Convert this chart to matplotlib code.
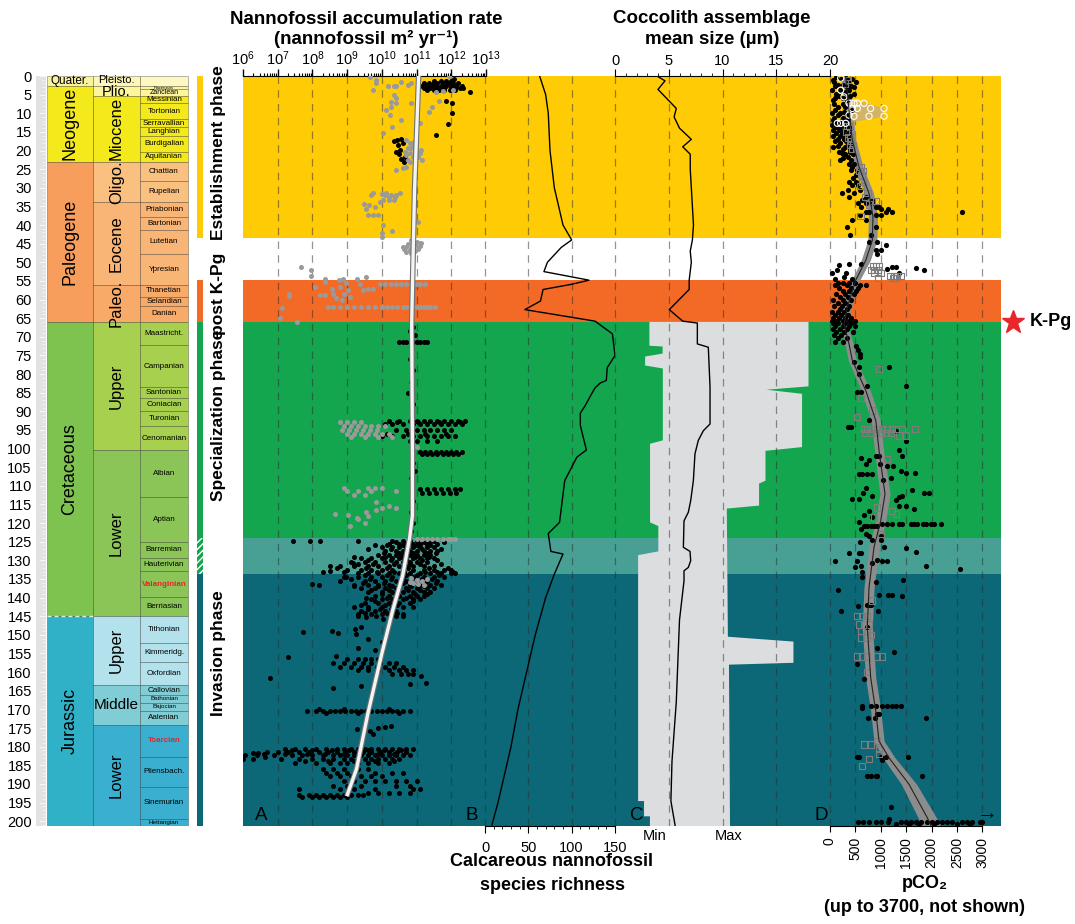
import numpy as np
import matplotlib
matplotlib.use("Agg")
import matplotlib.pyplot as plt
from matplotlib.patches import Rectangle, Polygon
from matplotlib.ticker import LogLocator, NullFormatter, MultipleLocator
from matplotlib.transforms import blended_transform_factory

plt.rcParams['font.family'] = ['Liberation Sans', 'DejaVu Sans']
plt.rcParams['mathtext.fontset'] = 'custom'
plt.rcParams['mathtext.rm'] = 'Liberation Sans'
plt.rcParams['mathtext.it'] = 'Liberation Sans:italic'
plt.rcParams['mathtext.bf'] = 'Liberation Sans:bold'
plt.rcParams['hatch.linewidth'] = 1.0

# ----------------------------
# Geologic time scale (Ma)
# ----------------------------
period_names = ['Quater.', 'Neogene', 'Paleogene', 'Cretaceous', 'Jurassic']
period_bounds = [0, 2.58, 23.03, 66.0, 145.0, 201.3]

epoch_names = ['Pleisto.', 'Plio.', 'Miocene', 'Oligo.', 'Eocene', 'Paleo.',
               'Upper', 'Lower', 'Upper', 'Middle', 'Lower']
epoch_bounds = [0, 2.58, 5.333, 23.03, 33.9, 56.0, 66.0, 100.5, 145.0, 163.5, 174.1, 201.3]

stage_names = ['', 'Piacenzian', 'Zanclean', 'Messinian', 'Tortonian', 'Serravallian',
               'Langhian', 'Burdigalian', 'Aquitanian', 'Chattian', 'Rupelian',
               'Priabonian', 'Bartonian', 'Lutetian', 'Ypresian', 'Thanetian',
               'Selandian', 'Danian', 'Maastricht.', 'Campanian', 'Santonian',
               'Coniacian', 'Turonian', 'Cenomanian', 'Albian', 'Aptian', 'Barremian',
               'Hauterivian', 'Valanginian', 'Berriasian', 'Tithonian', 'Kimmeridg.',
               'Oxfordian', 'Callovian', 'Bathonian', 'Bajocian', 'Aalenian', 'Toarcian',
               'Pliensbach.', 'Sinemurian', 'Hettangian']
stage_bounds = [0, 2.58, 3.6, 5.333, 7.246, 11.63, 13.82, 15.97, 20.44, 23.03, 28.1,
                33.9, 37.8, 41.2, 47.8, 56.0, 59.2, 61.6, 66.0, 72.1, 83.6, 86.3, 89.8,
                93.9, 100.5, 113.0, 125.0, 129.4, 132.9, 139.8, 145.0, 152.1, 157.3,
                163.5, 166.1, 168.3, 170.3, 174.1, 182.7, 190.8, 199.3, 201.3]
highlight_stages = ['Valanginian', 'Toarcian']

# phases (background bands)
phase_tops = [0, 43.4, 54.8, 66.0, 124.0, 133.6]
phase_bots = [43.4, 54.8, 66.0, 124.0, 133.6, 201.3]

phase_labels = ['Establishment phase', 'post K-Pg', 'Specialization phase', 'Invasion phase']
phase_label_age = [20.5, 58.5, 91.0, 155.0]

# ----------------------------
# A: nannofossil accumulation rate (log10 nannofossil m-2 yr-1)
# ----------------------------
a_trend_age = [0, 31, 66, 100, 118, 124, 134, 143.5, 155, 171, 186, 193.3]
a_trend_log = [11.06, 10.94, 10.86, 10.88, 10.88, 10.8, 10.6, 10.31, 10.0, 9.6, 9.27, 8.99]

a_black_rows = [
    (0.9, [12.09]), (1.4, [11.5, 11.7, 11.85, 12.0]),
    (2.0, [11.2, 11.35, 11.5, 11.6, 11.75, 11.9, 12.05, 12.2]),
    (2.6, [11.15, 11.3, 11.45, 11.55, 11.7, 11.85, 12.0, 12.15, 12.3]),
    (3.2, [11.2, 11.4, 11.6, 11.8, 12.0, 12.1, 12.25, 12.35]),
    (3.8, [11.3, 11.5, 11.65, 11.8, 11.95, 12.1]),
    (4.3, [12.54]), (6.6, [11.85]), (7.3, [12.02]), (9.9, [12.02]), (13.0, [11.9]), (15.9, [11.57]),
    (16.8, [10.56]), (17.2, [10.45]), (17.5, [10.35]), (17.9, [10.61]), (18.5, [10.46]),
    (19.9, [10.51]), (20.5, [10.4]), (21.0, [10.49]), (21.7, [10.66]), (22.3, [10.56]), (23.2, [10.63]),
    (66.5, [10.85]), (67.5, [10.9]), (68.5, [10.8]), (69.5, [10.95]), (70.5, [10.85]),
    (71.5, [10.5, 10.6, 10.7, 10.8, 10.9, 11.0, 11.1, 11.2, 11.3]),
    (76, [10.8]), (79, [10.9]), (82, [10.85]), (85, [10.75]), (88, [10.9]),
    (92.5, [10.2, 10.5, 10.8, 11.0, 11.2, 11.4, 11.6, 11.8, 12.0, 12.2, 12.4]),
    (93.0, [10.45, 11.05, 11.65, 12.25]),
    (93.5, [10.1, 10.3, 10.6, 10.9, 11.1, 11.3, 11.5, 11.7, 11.9, 12.1, 12.3]),
    (95.0, [10.4, 10.7, 11.0, 11.2, 11.4, 11.6, 11.8, 12.0]),
    (96.0, [10.15, 10.75, 11.25, 11.85]),
    (96.5, [10.0, 10.3, 10.6, 10.9, 11.1, 11.3, 11.5, 11.7, 11.9, 12.1]),
    (98.0, [10.8, 11.0, 11.3, 11.6]),
    (100.8, [11.1, 11.25, 11.4, 11.55, 11.7, 11.85, 12.0, 12.15, 12.3]),
    (101.5, [11.15, 11.3, 11.45, 11.6, 11.75, 11.9, 12.05, 12.2]),
    (104, [10.9]), (106, [10.95]), (108, [10.85]),
    (110.8, [11.1, 11.3, 11.5, 11.7, 11.9, 12.1, 12.25]),
    (111.8, [11.15, 11.35, 11.55, 11.75, 11.95, 12.15]),
    (114, [10.9]), (117, [10.85]), (120, [10.9]), (122, [10.85]),
    (124.7, [7.45, 7.93, 8.21, 9.30, 10.3, 10.6, 10.8, 11.0, 11.2, 11.5]),
    (125.0, [10.4, 10.8, 11.2, 11.4, 11.8]),
    (125.5, [10.2, 10.5, 10.7, 10.9, 11.1, 11.3, 11.6]),
    (126.0, [9.8, 10.15, 10.6, 11.0, 11.4]),
    (126.5, [10.0, 10.3, 10.5, 10.7, 10.9, 11.1, 11.3, 11.5]),
    (127.0, [9.6, 10.25, 10.75, 11.15, 11.7]),
    (127.5, [10.1, 10.4, 10.6, 10.8, 11.0, 11.2, 11.4, 11.6]),
    (128.0, [10.05, 10.5, 10.9, 11.3, 11.55]),
    (128.5, [9.9, 10.2, 10.4, 10.6, 10.8, 11.0, 11.2, 11.4]),
    (129.0, [9.2, 10.1, 10.55, 10.95, 11.35]),
    (129.5, [9.4, 9.7, 10.0, 10.3, 10.5, 10.7, 10.9, 11.1, 11.3, 11.5]),
    (130.0, [9.6, 10.25, 10.7, 11.15, 11.6]),
    (130.5, [9.1, 9.5, 9.8, 10.1, 10.4, 10.6, 10.8, 11.0, 11.3]),
    (130.6, [9.17]),
    (131.0, [9.3, 9.75, 10.35, 10.8, 11.1, 11.7]),
    (131.5, [8.5, 8.8, 9.2, 9.6, 9.9, 10.2, 10.5, 10.7, 10.9, 11.2, 11.5]),
    (132.0, [8.7, 9.55, 10.15, 10.75, 11.35, 11.9]),
    (132.5, [9.0, 9.4, 9.7, 10.0, 10.3, 10.6, 10.9, 11.2, 11.5, 11.8, 12.0]),
    (132.8, [8.5]), (133.2, [8.31]),
    (133.0, [8.9, 9.85, 10.35, 10.65, 11.25, 11.6, 12.05]),
    (133.5, [9.3, 9.6, 9.9, 10.2, 10.5, 10.8, 11.1, 11.4, 11.7, 12.0, 12.1]),
    (134.0, [9.5, 10.15, 10.7, 11.0, 11.65]),
    (134.5, [8.9, 9.3, 9.7, 10.0, 10.3, 10.6, 10.9, 11.2, 11.5, 11.8]),
    (134.6, [8.98]), (135.5, [8.79]),
    (135.0, [9.1, 9.65, 10.25, 10.55, 11.15, 11.45]),
    (135.5, [9.5, 9.8, 10.1, 10.4, 10.7, 11.0, 11.3, 11.6]),
    (136.0, [9.45, 10.05, 10.6, 11.25, 11.55]),
    (136.4, [8.0]),
    (136.5, [8.2, 9.2, 9.6, 9.9, 10.2, 10.5, 10.8, 11.1, 11.4, 11.7]),
    (137.0, [9.2, 9.9, 10.3, 10.85, 11.2]),
    (137.5, [9.4, 9.8, 10.1, 10.4, 10.7, 11.0, 11.3, 11.5]),
    (138.0, [9.7, 10.2, 10.75, 11.1]),
    (138.5, [9.6, 10.0, 10.3, 10.6, 10.9, 11.2, 11.4]),
    (139.0, [10.0, 10.4, 10.95, 11.3]),
    (139.5, [9.8, 10.2, 10.5, 10.8, 11.0, 11.2]),
    (140.0, [9.55, 10.15, 10.7]),
    (140.5, [9.7, 10.0, 10.3, 10.6, 10.9, 11.1]),
    (141.0, [9.8, 10.35, 10.9]),
    (141.5, [9.5, 9.9, 10.2, 10.5, 10.8]),
    (142.0, [9.4, 10.1, 10.45]),
    (142.5, [9.2, 9.6, 10.0, 10.3, 10.6, 10.9]),
    (143.0, [9.6, 9.95, 10.25]),
    (143.5, [9.4, 9.8, 10.1, 10.4]),
    (144.0, [9.5, 10.15, 10.45]),
    (144.5, [9.3, 9.7, 10.0, 10.3, 10.6]),
    (144.9, [9.31, 9.84, 10.42, 10.61]), (145.3, [9.55]), (145.7, [10.03]), (144.4, [10.22]),
    (148.0, [9.41]), (148.5, [9.22]), (149.8, [9.25]), (148.9, [8.55]), (149.6, [8.74]), (149.2, [7.73]),
    (151, [9.6]), (152, [10.0]), (153.5, [9.3]), (154, [9.8]),
    (155.9, [7.30]), (155.6, [8.69]),
    (156.5, [9.0, 9.3, 9.5, 9.7, 9.9]),
    (157.5, [8.6, 8.9, 9.2, 9.45, 9.7, 9.95, 10.2, 10.4]),
    (158.5, [8.8, 9.1, 9.4, 9.6, 9.85, 10.1, 10.35, 10.6]),
    (159.5, [9.3, 9.6, 9.9, 10.2, 10.5, 10.7, 10.9]),
    (160.5, [10.3, 10.55, 10.75, 10.9]),
    (161.0, [11.13]), (161.6, [6.78]), (162.8, [11.28]), (163.3, [10.8]), (164.2, [8.6]), (163.7, [9.41]),
    (170.0, [8.2, 8.9, 9.6, 10.2]),
    (170.4, [7.83, 8.1, 8.3, 8.5, 8.65, 8.8, 8.95, 9.1, 9.25, 9.4, 9.55, 9.7, 9.85,
             10.0, 10.15, 10.3, 10.45, 10.6, 10.8]),
    (171.0, [8.4, 9.3, 10.5]),
    (174.5, [10.27]), (174.7, [10.08]), (174.9, [9.89]), (175.2, [9.27]), (175.8, [9.65]),
    (176.7, [9.46, 9.75]),
    (180.5, [7.2, 7.5, 7.8, 8.1, 8.4, 8.7, 8.9, 9.1, 9.3, 9.5, 9.7, 9.9, 10.1, 10.3, 10.5, 10.7, 10.9]),
    (181.0, [7.4, 8.0, 8.55, 9.05, 9.6, 10.05, 10.55]),
    (181.5, [6.7, 7.0, 7.3, 7.6, 7.9, 8.2, 8.45, 8.7, 8.95, 9.2, 9.45, 9.7, 9.95, 10.2, 10.45, 10.7]),
    (181.8, [6.3, 6.44]),
    (182.0, [6.6, 7.2, 7.85, 8.35, 8.9, 9.35, 9.9, 10.35]),
    (182.3, [6.05, 6.4, 6.9, 7.4, 7.7, 8.0, 8.3, 8.6, 8.8, 9.0, 9.2, 9.4, 9.6, 9.8,
             10.0, 10.2, 10.4, 10.6, 10.8]),
    (182.8, [6.63]),
    (183.3, [6.3, 7.1, 7.6, 8.0, 8.3, 8.6, 8.9, 9.1, 9.3, 9.5, 9.7, 9.9, 10.1, 10.3, 10.5]),
    (183.4, [6.0]),
    (183.8, [7.8, 8.45, 9.2, 9.8, 10.35]),
    (184.5, [7.5, 8.1, 8.5, 8.8, 9.0, 9.3, 9.6, 9.9, 10.2]),
    (186, [8.3, 8.6, 8.9, 9.3, 9.6]),
    (187, [8.4, 8.7, 9.0, 9.8, 10.3, 10.6]),
    (188, [8.5, 8.8, 9.1, 9.4, 9.7, 10.0]),
    (189.2, [8.9, 9.2, 9.5, 9.8, 10.1, 10.4, 10.7, 11.0]),
    (190.5, [8.6, 9.0, 9.4, 10.4, 10.8]),
    (191.5, [7.6, 8.8, 9.2, 9.8, 10.9, 11.1]),
    (192.5, [9.6, 9.9, 10.2, 10.5, 10.8]),
    (193.0, [7.6, 7.9, 8.1, 8.3, 8.5, 8.7, 8.9, 9.1, 9.3, 9.45]),
    (193.5, [7.7, 8.0, 8.2, 8.4, 8.6, 8.8, 9.0]),
]

a_grey_rows = [
    (0.0, [11.93]), (0.2, [9.65]), (1.0, [9.82]), (1.5, [10.56]), (2.0, [9.82, 10.85]),
    (2.3, [10.75]), (2.7, [10.18, 10.34, 10.42]), (3.8, [9.75, 12.04]), (4.0, [11.76]), (4.2, [11.57]),
    (5.1, [10.34]), (6.0, [10.42]), (6.6, [11.66]), (6.9, [10.27]), (7.3, [10.42, 10.85]),
    (8.2, [10.27, 11.45]), (9.1, [10.13]), (9.6, [11.37]), (10.5, [10.24]), (11.8, [10.56]),
    (12.7, [11.09]), (13.6, [10.30]), (15.2, [10.03]),
    (17.2, [10.70]), (17.7, [10.94]), (18.1, [10.80]), (18.5, [10.89]), (19.2, [10.85]),
    (19.4, [10.75]), (19.7, [10.99]), (19.9, [11.13]), (20.3, [10.66]), (20.8, [10.82, 11.09]),
    (21.2, [10.70]), (21.7, [10.89, 11.04]), (22.6, [11.16, 10.75]), (23.0, [10.82]),
    (24.4, [10.70]), (24.8, [10.61]), (25.1, [10.42]),
    (31.4, [10.13]), (31.5, [9.75, 10.51]), (31.7, [9.99]), (32.0, [9.70, 10.08, 10.27, 10.42]),
    (32.4, [10.37]), (32.6, [10.22]), (33.2, [10.20]), (33.3, [10.03, 10.34]), (33.8, [9.94]),
    (34.4, [9.48]), (34.7, [9.63]), (35.1, [9.79]), (35.6, [9.55]), (37.2, [9.89]), (37.4, [9.60, 9.75]),
    (39.3, [11.04]), (39.6, [10.89]), (40.0, [10.03]), (41.6, [10.29]), (42.2, [9.99]), (43.2, [10.01]),
    (44.0, [10.85]), (44.5, [11.0]), (44.8, [11.12]), (45.0, [10.75]), (45.3, [10.95]), (45.6, [11.1]),
    (45.8, [10.6]), (46.0, [10.7]), (46.2, [10.85]), (46.4, [11.05]), (46.5, [10.65]), (46.8, [10.8]),
    (47.0, [10.95]), (47.3, [10.7]), (47.6, [10.85]),
    (51.2, [7.67]), (52.2, [7.97]), (53.8, [7.97]), (53.9, [9.53]), (54.4, [8.36, 8.88, 9.27]),
    (54.8, [8.77]), (55.3, [8.36]), (55.6, [8.96]), (55.7, [9.36]),
    (55.9, [9.94, 10.1, 10.25, 10.4, 10.55, 10.7, 10.85, 11.0, 11.1, 11.23]),
    (56.5, [8.07]), (56.6, [8.79]), (57.1, [8.55, 9.60]), (57.3, [9.75]), (57.5, [9.03, 9.46]),
    (58.4, [8.60, 8.90, 7.33]), (58.9, [8.21, 8.36]), (59.1, [7.33]), (59.3, [9.07]), (59.5, [8.69]),
    (60.2, [8.84]),
    (62.0, [8.45, 8.6, 8.8, 9.0, 9.2, 9.4, 9.6, 9.8, 10.0, 10.15, 10.3, 10.45, 10.6, 10.7,
            10.8, 10.9, 11.0, 11.1, 11.2, 11.3, 11.4, 11.52]),
    (62.2, [7.11]), (64.9, [7.06]), (66.0, [7.56]),
    (93.0, [8.8, 9.0, 9.2, 9.4]),
    (94.0, [8.9, 9.1, 9.3, 9.5, 9.7, 9.9, 10.1]),
    (95.0, [8.85, 9.05, 9.25, 9.45, 9.65, 9.85]),
    (96.0, [9.0, 9.2, 9.4, 9.6, 9.8, 10.0, 10.2]),
    (97.0, [9.1, 9.5, 9.9, 10.3]), (99.0, [10.9]), (99.5, [11.0]),
    (110.5, [8.9, 9.6, 9.8, 10.0]), (111.5, [9.0, 9.3, 9.7, 10.4]), (112.5, [9.2, 9.5]),
    (114.4, [9.84]), (115.3, [10.22]), (115.9, [9.99, 10.42]), (116.5, [9.84]), (117.1, [9.55]),
    (117.6, [8.64]), (117.7, [9.03]), (118.0, [9.60]), (118.5, [9.27]), (118.9, [9.31]),
    (120.1, [9.51]), (120.7, [9.07]),
    (124.3, [11.0, 11.15, 11.3, 11.45, 11.6, 11.75, 11.9, 12.0, 12.1]),
    (134.8, [10.85]), (135.0, [11.3]), (135.2, [11.0]), (135.6, [11.15]), (135.8, [10.8]),
    (136.0, [10.9]), (136.3, [11.05]), (136.6, [11.2]),
]

# ----------------------------
# B: calcareous nannofossil species richness
# ----------------------------
b_age = [0, 5, 10, 20, 30, 40, 44, 46, 50, 52.5, 54.8, 55.9, 57.3, 60.4, 62.7, 65.8, 69.2,
         75.0, 78.3, 81.7, 82.4, 83.7, 84.9, 88.7, 90.5, 93.8, 100.4, 102.3, 108.6, 119.8,
         122.8, 127.6, 128.3, 131.0, 133.7, 140, 150, 160, 170, 180, 190, 195, 201]
b_rich = [63, 70, 73, 75, 80, 90, 100, 88, 72, 68, 120, 100, 67, 64, 46, 127, 147,
          150, 141, 140, 133, 127, 124, 115, 110, 110, 117, 106, 92, 86,
          73, 76, 90, 85, 80, 70, 58, 48, 38, 30, 20, 15, 8]

# ----------------------------
# C: coccolith assemblage mean size (um) with min / max envelope
# ----------------------------
c_age = [0, 1.3, 3.6, 8.7, 11, 14, 17, 19, 21, 25, 30, 35, 40, 44, 47, 50, 54.8, 57.3,
         62.7, 65.8, 66.3, 71.9, 72.8, 83.5, 93.4, 95.2, 97.8, 101.4, 108.6, 114.0, 117.1,
         119.4, 126.5, 127.6, 130.1, 131.9, 132.8, 135.5, 146, 168, 184, 194.6, 201.3]
c_mean = [3.9, 4.65, 4.0, 5.7, 5.5, 6.0, 7.1, 6.3, 7.0, 7.0, 7.1, 7.2, 7.3, 7.2, 7.0, 7.1, 6.9, 6.9,
          5.05, 6.3, 7.66, 7.66, 8.68, 8.84, 8.84, 8.22, 7.75, 7.44, 7.29, 7.04, 6.82,
          6.42, 6.36, 6.98, 7.04, 6.82, 6.42, 6.42, 6.0, 5.7, 5.3, 5.2, 5.6]

c_min_age = [66.0, 72.4, 72.6, 74.5, 75.3, 77.7, 78.5, 97.8, 98.7, 119.8, 120.8, 127.6, 128.6,
             194.6, 194.6, 198.7, 198.7, 201.3]
c_min_um = [3.2, 3.2, 4.43, 4.43, 2.8, 2.8, 4.45, 4.45, 3.26, 3.26, 4.03, 4.03, 2.15,
            2.15, 2.7, 2.7, 3.25, 3.25]
c_max_age = [66.0, 83.3, 84.2, 85.3, 99.6, 100.6, 108.6, 109.4, 115.3, 116.1, 150.5, 151.8,
             157.5, 158.0, 201.3]
c_max_um = [18.0, 18.0, 14.1, 17.4, 17.4, 14.0, 14.0, 13.4, 13.4, 10.4, 10.5, 16.6,
            16.6, 10.6, 10.7]

# ----------------------------
# D: pCO2 (ppm)
# ----------------------------
d_trend_age = [0.2, 9.1, 17.2, 24.4, 31.5, 37.8, 44.1, 49.5, 54.8, 62, 66.5, 71.9, 76.3, 84.4,
               92.5, 100.5, 112.2, 119.4, 126.5, 137.3, 148, 161.5, 170.4, 178.5, 183, 190.1,
               199.1, 201.3]
d_trend_ppm = [309, 374, 439, 571, 768, 846, 833, 703, 506, 341, 276, 374, 439, 703,
               902, 965, 1083, 998, 866, 768, 734, 801, 900, 965, 1161, 1555, 1916, 1990]
d_trend_err = [70, 70, 70, 80, 90, 90, 90, 90, 80, 80, 70, 80, 80, 90,
               90, 90, 100, 100, 100, 100, 100, 100, 100, 100, 120, 150, 180, 190]

d_black_rows = [
    (0.3, [120, 300]), (0.8, [210, 440]), (1.0, [60, 350]), (1.5, [80, 505, 370]), (2.3, [150, 260]),
    (2.8, [100, 420]), (3.0, [330, 480]), (3.8, [46, 200, 374]), (4.2, [300]), (4.7, [120, 470]),
    (5.5, [177, 400]), (6.0, [250, 90]), (6.5, [60, 340]), (7.4, [80, 250]),
    (8.2, [300, 150]), (9.1, [100, 440]), (9.6, [280]), (10.0, [30, 200]), (10.5, [150, 330]),
    (11.2, [80, 260]), (11.5, [350]),
    (11.8, [230, 50]), (12.5, [100, 180, 300]), (13.2, [46, 250]), (13.8, [112, 200, 330]),
    (14.0, [400]), (14.5, [60, 177, 280]), (15.2, [120, 240, 350]), (15.8, [280]),
    (16.0, [60, 200, 374]), (16.8, [150, 280]),
    (17.5, [100, 310, 380]), (18.1, [200, 440]), (18.8, [150, 340]), (19.0, [60, 300]), (19.5, [250, 400]),
    (20.3, [180, 400]), (20.8, [240]), (21.0, [300, 450]), (21.7, [350]), (22.0, [260]),
    (22.6, [190, 420]), (23.5, [370, 470]),
    (24.4, [430]), (25.3, [410, 530]), (26.6, [505]), (27.5, [460]), (28.4, [374, 520]),
    (29.3, [440, 560]), (30.6, [360, 600]), (31.5, [243, 480]), (32.4, [374, 700]), (33.3, [636, 820]),
    (34.2, [702, 833, 560]), (35.1, [900, 965, 620]), (35.6, [1000, 1150]),
    (36.5, [768, 1096, 1227, 2600, 700]), (37.3, [600, 900, 1000]), (38.7, [440, 700]),
    (40.5, [340, 900]), (42.8, [400, 800]),
    (44.5, [768, 932]), (45.4, [1096]), (46.8, [899, 1000]), (47.7, [932]), (50.5, [374, 604]),
    (50.8, [177]), (51.3, [1227, 1292]), (51.7, [1128]), (52.1, [144, 1850]), (51.5, [1686]),
    (53.0, [309, 1358, 46]), (53.9, [276]), (54.4, [440, 100]),
    (55.5, [150, 250, 380, 500]), (56.2, [100, 330, 600, 700]), (57.0, [180, 420, 560]),
    (57.8, [250, 380, 520]), (58.5, [120, 300, 470]), (59.3, [200, 350]), (60.2, [60, 250, 420]),
    (61.0, [150, 300]), (61.8, [80, 230, 380]), (62.6, [200, 330]), (63.4, [40, 150, 280]),
    (64.2, [100, 220, 350]), (65.0, [60, 180, 300, 420]), (65.7, [30, 120, 250, 380, 500]),
    (66.4, [60, 150, 300, 420]), (67.2, [100, 250, 380, 500]), (68.0, [50, 200, 330]),
    (68.8, [120, 280, 450]), (69.6, [80, 220]), (70.4, [150, 330]), (71.4, [100, 250]),
    (72.5, [520]), (73.5, [560]), (74.5, [590]), (75.5, [600]),
    (76.8, [472]), (78.0, [571, 1161]), (79.9, [571]), (83.1, [1489]), (83.3, [735]),
    (84.9, [538, 604]), (92.3, [768]), (94.3, [361, 407]), (95.3, [1292]), (98.0, [1502]),
    (100.5, [1358]), (101.9, [899, 965]), (102.1, [1410]), (102.5, [604]), (103.0, [768]),
    (104.1, [702, 978]), (104.8, [1128, 1240]), (106.0, [1391]), (106.6, [1673, 1489]),
    (106.8, [571, 636, 735, 820]), (107.9, [1194]), (108.4, [1043]), (110.6, [702]), (111.1, [1620]),
    (112.0, [650, 1850, 1948]), (112.6, [833, 1410]), (113.1, [1358]), (113.4, [440, 571]),
    (113.8, [1292]), (115.3, [1358, 1489]), (116.2, [1653]), (116.7, [768]), (117.7, [669]),
    (118.3, [833]), (119.8, [571]),
    (120.2, [1030, 1128, 1227, 1358, 1424, 1588, 1653, 1719, 1830, 1896, 1981, 2047, 2178]),
    (120.8, [669, 735, 800, 866, 932]), (121.5, [620]), (123.0, [702]), (123.5, [768, 997]),
    (124.5, [833, 997]), (125.0, [600]),
    (126.5, [1063]), (126.7, [1502]), (127.7, [1686]), (128.0, [374, 571, 604]),
    (130.3, [98, 538, 1017, 1128]), (130.8, [820]), (129.9, [932]), (131.4, [604, 1896]),
    (131.7, [492]), (132.2, [2558]), (133.0, [636]), (134.4, [636]),
    (135.2, [1437]), (135.7, [912]), (138.0, [164]), (139.3, [965, 1148, 1214]), (139.5, [1424]),
    (142.0, [722, 760, 800]), (142.3, [545]), (143.5, [210, 951]), (148.0, [722]), (153.4, [919]),
    (154.7, [1260]), (157.9, [538]), (161.9, [669]),
    (169.0, [623, 800, 912, 1017, 1128, 1214, 1292, 1391]), (169.6, [623]), (171.3, [932, 965]),
    (172.4, [755, 886, 1883]), (182.8, [538, 571, 997, 1096, 1542]), (183.6, [1020]),
    (188.0, [722, 800, 912, 932, 1817]), (196.2, [1194]), (199.3, [1161]),
    (200.3, [560, 650, 760, 900, 1000, 1150, 1400, 1500, 1600, 1700, 1800, 1900, 2000, 2100,
             2200, 2300, 2400, 2600, 2700, 2800, 2950, 3000]),
    (200.7, [1300, 1550, 1750, 2050, 2500, 2750]),
]

d_square_rows = [
    (0.2, [340]), (1.0, [360]), (2.0, [300]), (13.5, [380, 330]), (15, [320]), (16.5, [360, 400]),
    (17.5, [420]), (18.5, [400, 460]), (19.5, [430]), (24.5, [600]), (25.5, [640, 580]),
    (26.5, [620]), (28.5, [640]), (29.5, [600]), (31.5, [740]), (32.5, [700]), (33.5, [820, 900]),
    (34.5, [760]), (37.5, [600]),
    (51.0, [850, 900, 960]), (52.0, [800, 870, 950]), (52.8, [860, 1000]),
    (53.6, [1180, 1260, 1320, 1400]), (54.2, [1240, 1300, 940]),
    (78.6, [965]), (86.4, [604]), (89.8, [833]), (91.6, [538]),
    (94.7, [669, 735, 833, 932, 1030, 1128, 1227, 1292, 1424, 1673]),
    (95.8, [690, 800, 900, 1000, 1100, 1200]), (96.5, [1358, 1489]), (102.8, [1128]),
    (115.8, [932]), (116.7, [1227]), (117.6, [1292]), (118.5, [866]), (122.9, [997]), (140.8, [833]),
    (145.0, [538, 636, 735]), (147.2, [571, 669, 768]), (148.9, [604, 735]), (150.0, [800]),
    (150.7, [604, 735]), (155.8, [538, 636, 735, 932, 1017]), (160.0, [735]), (178.5, [932]),
    (179.4, [669, 800]), (180.6, [965]), (182.0, [965]), (183.4, [768]), (185.2, [636]),
]

d_circle_rows = [
    (0.6, [210]), (3.8, [210]), (5.6, [276]), (7.3, [374, 472, 538, 669]),
    (8.7, [440, 538, 800, 1063]), (10.5, [374]), (10.8, [472, 768, 1063]), (12.7, [144, 210, 309]),
]

d_tan_age = [7.0, 7.2, 8.7, 10.9, 12.3, 11.0]
d_tan_ppm = [310, 700, 1060, 1060, 470, 310]


def flatten(rows):
    ages = np.array([a for a, vals in rows for _ in vals])
    vals = np.array([v for _, vals in rows for v in vals])
    return ages, vals


# ----------------------------
# Styling / layout
# ----------------------------
period_colors = ['#FAF39E', '#F4EA1B', '#F79E5D', '#7EC24F', '#30B1C8']
epoch_colors = ['#FDF6B4', '#FCF59B', '#F4EA1B', '#FAC07F', '#F9B576', '#F8AA68',
                '#A8D04F', '#8CC557', '#B3E2ED', '#80CDD6', '#3AAFD0']
phase_colors = ['#FFCB05', 'white', '#F26A25', '#13A64F', '#48A095', '#0C6876']
GRID = dict(color='#2b2b2b', lw=0.9, ls=(0, (6, 5)), alpha=0.5, zorder=1)

W, H = 1075, 924
Y_TOP, Y_BOT = 76, 826
AGE_END = 201.3


def box(x0, x1):
    return [x0 / W, 1 - Y_BOT / H, (x1 - x0) / W, (Y_BOT - Y_TOP) / H]


def stage_color(i):
    if i == 0:
        return '#FDF7C2'
    mid = 0.5 * (stage_bounds[i] + stage_bounds[i + 1])
    for j in range(len(epoch_names)):
        if epoch_bounds[j] <= mid < epoch_bounds[j + 1]:
            return epoch_colors[j]


fig = plt.figure(figsize=(W / 100, H / 100), dpi=100)

# ---- time scale column ----
ts = fig.add_axes(box(36, 243))
ts.set_xlim(36, 243)
ts.set_ylim(AGE_END, 0)
ts.set_facecolor('none')
for s in ts.spines.values():
    s.set_visible(False)
ts.set_xticks([])
ts.set_yticks(np.arange(0, 201, 5))
ts.tick_params(axis='y', length=0, pad=3, labelsize=10.5)

ts.add_patch(Rectangle((36, 0), 10, AGE_END, fc='#e2e2e2', ec='none'))
ts.hlines(np.arange(0, 202, 1), 42, 46, color='#f8f8f8', lw=0.5)
ts.hlines(np.arange(0, 202, 5), 39, 46, color='#f8f8f8', lw=0.7)


def column(bounds, colors, x0, x1):
    for top, bot, c in zip(bounds[:-1], bounds[1:], colors):
        ts.add_patch(Rectangle((x0, top), x1 - x0, bot - top, fc=c, ec=(0, 0, 0, 0.28), lw=0.7))


column(period_bounds, period_colors, 47, 93)
column(epoch_bounds, epoch_colors, 93, 140)
column(stage_bounds, [stage_color(i) for i in range(len(stage_names))], 140, 188)
ts.plot([47, 93], [145, 145], color='#d8f0d0', lw=1.0, ls=(0, (3, 2)))

for i, name in enumerate(period_names):
    mid = 0.5 * (period_bounds[i] + period_bounds[i + 1])
    if name == 'Quater.':
        ts.text(70, mid, name, ha='center', va='center', fontsize=8.5)
    else:
        ts.text(70, mid, name, ha='center', va='center', fontsize=13, rotation=90)

for i, name in enumerate(epoch_names):
    mid = 0.5 * (epoch_bounds[i] + epoch_bounds[i + 1])
    if name == 'Pleisto.':
        ts.text(116.5, 1.1, name, ha='center', va='center', fontsize=8)
    elif name == 'Plio.':
        ts.text(116.5, 4.3, name, ha='center', va='center', fontsize=10.5)
    elif name == 'Middle':
        ts.text(116.5, mid, name, ha='center', va='center', fontsize=11)
    else:
        ts.text(116.5, mid, name, ha='center', va='center', fontsize=12, rotation=90)

small_stage = {'Piacenzian': 3, 'Zanclean': 5, 'Bathonian': 4.5, 'Bajocian': 4.5, 'Hettangian': 4.5}
for i, name in enumerate(stage_names):
    if not name:
        continue
    mid = 0.5 * (stage_bounds[i] + stage_bounds[i + 1])
    red = name in highlight_stages
    ts.text(164, mid, name, ha='center', va='center', fontsize=small_stage.get(name, 5.8),
            color='#E8262B' if red else 'black', fontweight='bold' if red else 'normal')

# phase bar
for top, bot, c in zip(phase_tops, phase_bots, phase_colors):
    if c == 'white':
        continue
    if c == '#48A095':
        ts.add_patch(Rectangle((197, top), 6, bot - top, fc='#13A64F', ec='white', lw=0, hatch='/////'))
    else:
        ts.add_patch(Rectangle((197, top), 6, bot - top, fc=c, ec='none'))

for name, age in zip(phase_labels, phase_label_age):
    ts.text(219, age, name, ha='center', va='center', rotation=90, fontsize=12.5, fontweight='bold')

# ---- background bands ----
bg = fig.add_axes(box(243, 1001))
bg.set_xlim(0, 1)
bg.set_ylim(AGE_END, 0)
bg.axis('off')
for top, bot, c in zip(phase_tops, phase_bots, phase_colors):
    bg.axhspan(top, bot, color=c, lw=0)


def panel(x0, x1):
    ax = fig.add_axes(box(x0, x1))
    ax.set_facecolor('none')
    ax.set_ylim(AGE_END, 0)
    ax.yaxis.set_visible(False)
    for s in ax.spines.values():
        s.set_visible(False)
    return ax


# ---- panel A ----
axA = panel(243, 486)
axA.set_xscale('log')
axA.set_xlim(1e6, 1e13)
axA.xaxis.set_ticks_position('top')
axA.xaxis.set_major_locator(LogLocator(base=10, numticks=20))
axA.xaxis.set_minor_locator(LogLocator(base=10, subs=np.arange(2, 10), numticks=20))
axA.xaxis.set_minor_formatter(NullFormatter())
axA.spines['top'].set_visible(True)
axA.tick_params(axis='x', which='major', direction='out', length=5, width=1, labelsize=10.5, pad=1)
axA.tick_params(axis='x', which='minor', direction='out', length=2.5, width=0.8)
for k in range(7, 13):
    axA.axvline(10.0 ** k, **GRID)

ab_age, ab_log = flatten(a_black_rows)
ag_age, ag_log = flatten(a_grey_rows)
axA.scatter(10 ** ab_log, ab_age, s=13, color='black', lw=0, zorder=3)
axA.scatter(10 ** ag_log, ag_age, s=13, color='#9a9a9a', lw=0, zorder=3)
trend_x = 10 ** np.array(a_trend_log)
axA.plot(trend_x, a_trend_age, color='#6f6f6f', lw=4.0, solid_capstyle='butt', zorder=4)
axA.plot(trend_x, a_trend_age, color='#f4f4f4', lw=2.4, solid_capstyle='butt', zorder=5)

# ---- panel B ----
axB = panel(485, 615)
axB.set_xlim(0, 150)
axB.spines['bottom'].set_visible(True)
axB.spines['bottom'].set_bounds(0, 150)
axB.set_xticks([0, 50, 100, 150])
axB.xaxis.set_minor_locator(MultipleLocator(10))
axB.tick_params(axis='x', which='major', direction='out', length=5, labelsize=10.5, pad=6)
axB.tick_params(axis='x', which='minor', direction='out', length=2.5)
for v in (0, 50, 100, 150):
    axB.axvline(v, clip_on=False, **GRID)
axB.plot(b_rich, b_age, color='black', lw=1.0, zorder=4)

# ---- panel C ----
axC = panel(615, 830)
axC.set_xlim(0, 20)
axC.xaxis.set_ticks_position('top')
axC.spines['top'].set_visible(True)
axC.spines['top'].set_bounds(0, 20)
axC.set_xticks([0, 5, 10, 15, 20])
axC.xaxis.set_minor_locator(MultipleLocator(1))
axC.tick_params(axis='x', which='major', direction='out', length=5, labelsize=10.5, pad=1)
axC.tick_params(axis='x', which='minor', direction='out', length=2.5)
env = list(zip(c_min_um, c_min_age)) + list(zip(c_max_um[::-1], c_max_age[::-1]))
axC.add_patch(Polygon(env, closed=True, fc='#DCDDDF', ec='none', zorder=0.5))
for v in (5, 10, 15):
    axC.axvline(v, **GRID)
axC.plot(c_mean, c_age, color='black', lw=1.0, zorder=4)
tr = blended_transform_factory(axC.transData, axC.transAxes)
axC.text(3.7, -0.004, 'Min', transform=tr, ha='center', va='top', fontsize=10.5)
axC.text(10.6, -0.004, 'Max', transform=tr, ha='center', va='top', fontsize=10.5)

# ---- panel D ----
axD = panel(830, 1001)
axD.set_xlim(0, 3366)
axD.spines['bottom'].set_visible(True)
axD.spines['bottom'].set_bounds(0, 3000)
axD.set_xticks(np.arange(0, 3001, 500))
axD.tick_params(axis='x', which='major', direction='out', length=4, labelsize=10,
                labelrotation=90, pad=4)
for v in np.arange(0, 3001, 500):
    axD.axvline(v, clip_on=False, **GRID)

tpp = np.array(d_trend_ppm)
terr = np.array(d_trend_err)
axD.fill_betweenx(d_trend_age, tpp - terr, tpp + terr, color='#8c8c8c', lw=0, zorder=2)
axD.add_patch(Polygon(list(zip(d_tan_ppm, d_tan_age)), closed=True, fc='#C9B07A', ec='none',
                      alpha=0.85, zorder=2.5))
db_age, db_ppm = flatten(d_black_rows)
ds_age, ds_ppm = flatten(d_square_rows)
dc_age, dc_ppm = flatten(d_circle_rows)
axD.scatter(db_ppm, db_age, s=14, color='black', lw=0, zorder=3)
axD.scatter(ds_ppm, ds_age, s=20, marker='s', facecolors='none', edgecolors='#7d7d7d',
            lw=0.8, zorder=3.2)
axD.scatter(dc_ppm, dc_age, s=20, marker='o', facecolors='none', edgecolors='white',
            lw=0.8, zorder=3.4)
axD.plot(d_trend_ppm, d_trend_age, color='#222222', lw=0.8, zorder=3.5)

axD.plot([3602], [66.0], marker='*', ms=17, color='#E8262B', clip_on=False, zorder=6)
axD.text(3937, 66.0, 'K-Pg', ha='left', va='center', fontsize=13, fontweight='bold', clip_on=False)

# ---- titles and labels ----
def ftext(x, y, s, **kw):
    fig.text(x / W, 1 - y / H, s, **kw)


ftext(366, 24, 'Nannofossil accumulation rate', ha='center', va='baseline', fontsize=13.5, fontweight='bold')
ftext(366, 44, '(nannofossil m² yr⁻¹)', ha='center', va='baseline', fontsize=13.5, fontweight='bold')
ftext(712, 23, 'Coccolith assemblage', ha='center', va='baseline', fontsize=13.5, fontweight='bold')
ftext(712, 44, 'mean size (µm)', ha='center', va='baseline', fontsize=13.5, fontweight='bold')
ftext(552, 862, 'Calcareous nannofossil', ha='center', va='center', fontsize=13, fontweight='bold')
ftext(552, 885, 'species richness', ha='center', va='center', fontsize=13, fontweight='bold')
ftext(925, 884, 'pCO₂', ha='center', va='center', fontsize=13, fontweight='bold')
ftext(925, 908, '(up to 3700, not shown)', ha='center', va='center', fontsize=13, fontweight='bold')

for letter, x in zip('ABCD', (261, 472, 637, 821)):
    ftext(x, 815, letter, ha='center', va='center', fontsize=13.5)
ftext(987, 814, '→', ha='center', va='center', fontsize=15)

fig.savefig('out.png', dpi=100)
